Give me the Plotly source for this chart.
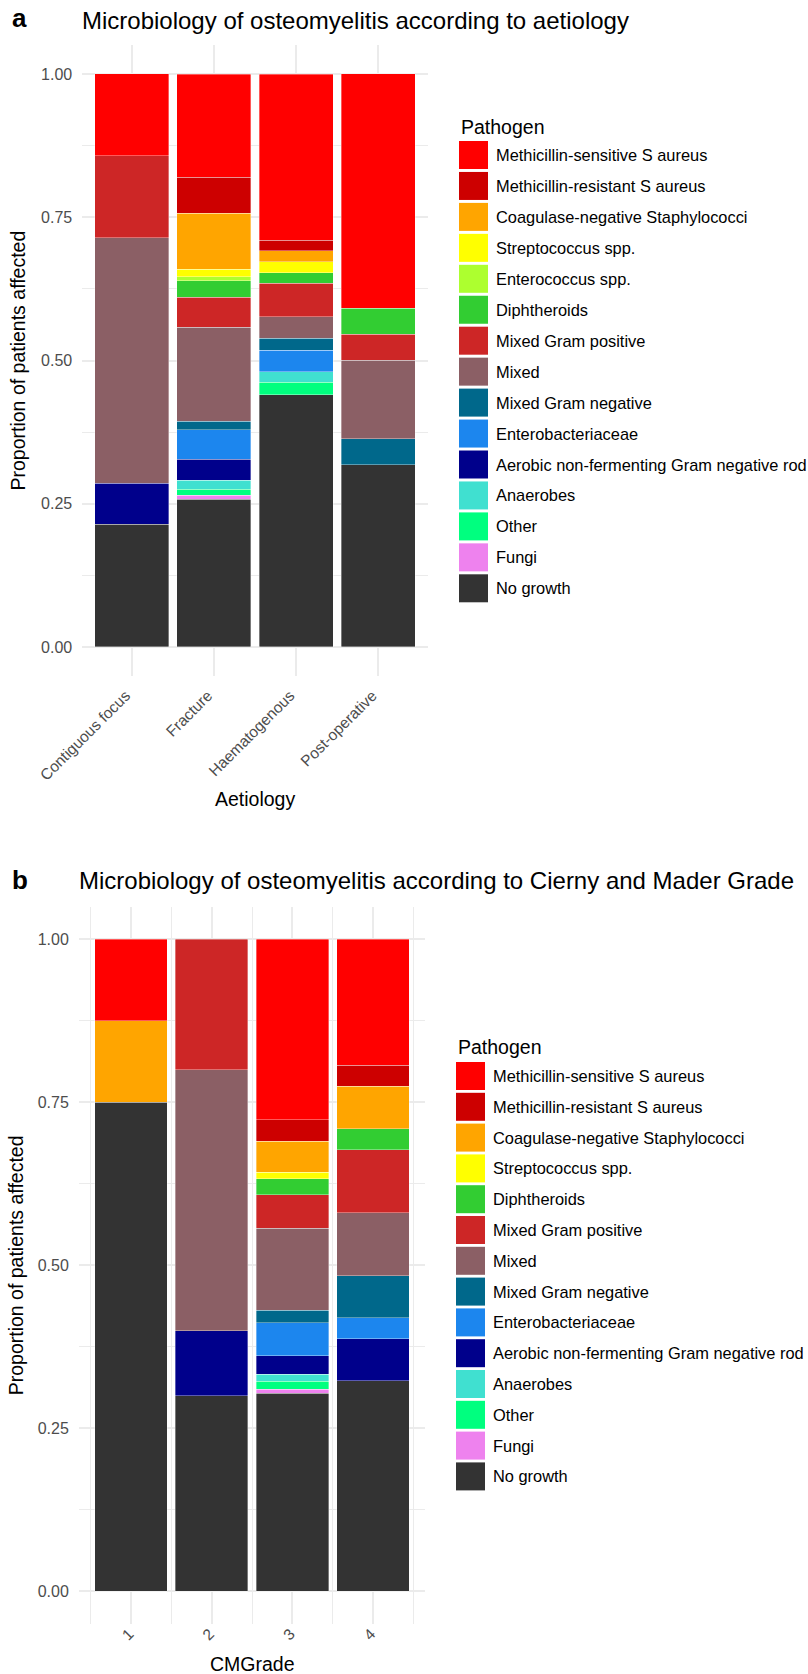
import plotly.graph_objects as go

W, H = 808, 1674
FONT = "Liberation Sans, Arial, Helvetica, sans-serif"
GRID = "#EBEBEB"
TICK_COL = "#4D4D4D"

# Pathogen levels (legend order, top of stack first) and their fill colours
pathogens = [
    "Methicillin-sensitive S aureus",
    "Methicillin-resistant S aureus",
    "Coagulase-negative Staphylococci",
    "Streptococcus spp.",
    "Enterococcus spp.",
    "Diphtheroids",
    "Mixed Gram positive",
    "Mixed",
    "Mixed Gram negative",
    "Enterobacteriaceae",
    "Aerobic non-fermenting Gram negative rod",
    "Anaerobes",
    "Other",
    "Fungi",
    "No growth",
]
colours = [
    "#FF0000", "#CD0000", "#FFA500", "#FFFF00", "#ADFF2F", "#32CD32",
    "#CD2626", "#8B5F65", "#00688B", "#1C86EE", "#00008B", "#40E0D0",
    "#00FF7F", "#EE82EE", "#333333",
]

# ---- panel a: proportion of patients by aetiology (values in pathogen order)
aetiology = ["Contiguous focus", "Fracture", "Haematogenous", "Post-operative"]
contiguous_focus = [0.1429, 0, 0, 0, 0, 0, 0.1429, 0.4286, 0, 0, 0.0714, 0, 0, 0, 0.2143]
fracture = [0.180, 0.063, 0.098, 0.013, 0.007, 0.029, 0.052, 0.164, 0.015, 0.051, 0.037, 0.016, 0.010, 0.007, 0.258]
haematogenous = [0.290, 0.018, 0.020, 0.019, 0, 0.018, 0.059, 0.037, 0.021, 0.038, 0, 0.018, 0.022, 0, 0.440]
post_operative = [0.4091, 0, 0, 0, 0, 0.0455, 0.0455, 0.1364, 0.0455, 0, 0, 0, 0, 0, 0.3182]

# ---- panel b: proportion of patients by Cierny and Mader grade
pathogens_b = [p for p in pathogens if p != "Enterococcus spp."]
cm_grades = [1, 2, 3, 4]
grade_1 = [0.125, 0, 0.125, 0, 0, 0, 0, 0, 0, 0, 0, 0, 0, 0.750]
grade_2 = [0, 0, 0, 0, 0, 0.200, 0.400, 0, 0, 0.100, 0, 0, 0, 0.300]
grade_3 = [0.277, 0.033, 0.047, 0.010, 0.025, 0.051, 0.126, 0.019, 0.051, 0.028, 0.011, 0.012, 0.006, 0.304]
grade_4 = [0.1935, 0.0323, 0.0645, 0, 0.0323, 0.0968, 0.0968, 0.0645, 0.0323, 0.0645, 0, 0, 0, 0.3226]

y_ticks = [0, 0.25, 0.5, 0.75, 1.0]
y_tick_text = ["0.00", "0.25", "0.50", "0.75", "1.00"]

colour_of = dict(zip(pathogens, colours))


def px_x(v):
    return v / W


def px_y(v):
    return 1 - v / H


fig = go.Figure()


def add_stack(cats, columns, levels, xaxis, yaxis):
    # plotly stacks the first trace at the bottom, so go from the last level up
    for k in reversed(range(len(levels))):
        vals = [col[k] if col[k] > 0 else None for col in columns]
        fig.add_trace(go.Bar(
            x=cats, y=vals, name=levels[k], width=0.9,
            marker=dict(color=colour_of[levels[k]], line=dict(color="rgba(255,255,255,0.7)", width=0.5)),
            xaxis=xaxis, yaxis=yaxis, showlegend=False,
        ))


add_stack(aetiology, [contiguous_focus, fracture, haematogenous, post_operative], pathogens, "x", "y")
add_stack(cm_grades, [grade_1, grade_2, grade_3, grade_4], pathogens_b, "x2", "y2")

# panel geometry in pixels
A_L, A_R, A_T, A_B = 82.4, 427.6, 45.4, 675.6
B_L, B_R, B_T, B_B = 79.0, 425.0, 906.7, 1623.9

yaxis_common = dict(
    range=[-0.05, 1.05], tickvals=y_ticks, ticktext=y_tick_text, automargin=False,
    showgrid=True, gridcolor=GRID, gridwidth=1.6, zeroline=False, showline=False,
    ticks="outside", ticklen=6, tickcolor="rgba(0,0,0,0)",
    tickfont=dict(family=FONT, size=16, color=TICK_COL),
    minor=dict(dtick=0.125, showgrid=True, gridcolor=GRID, gridwidth=0.8),
)

x_tickfont = dict(family=FONT, size=15.5, color=TICK_COL)

fig.update_layout(
    width=W, height=H, margin=dict(l=0, r=0, t=0, b=0, autoexpand=False),
    paper_bgcolor="white", plot_bgcolor="white",
    barmode="stack", bargap=0.1, showlegend=False,
    font=dict(family=FONT, color="#000000"),
    xaxis=dict(
        domain=[px_x(A_L), px_x(A_R)], anchor="y", type="category", automargin=False,
        categoryorder="array", categoryarray=aetiology, range=[-0.6, 3.6],
        showgrid=True, gridcolor=GRID, gridwidth=1.6, zeroline=False, showline=False,
        tickangle=-45, ticks="", ticklabelstandoff=7, ticklabelshift=-6, tickfont=x_tickfont,
    ),
    yaxis=dict(domain=[px_y(A_B), px_y(A_T)], anchor="x", **yaxis_common),
    xaxis2=dict(
        domain=[px_x(B_L), px_x(B_R)], anchor="y2", range=[0.355, 4.645], automargin=False,
        tickvals=cm_grades, ticktext=[str(g) for g in cm_grades],
        showgrid=True, gridcolor=GRID, gridwidth=1.6, zeroline=False, showline=False,
        minor=dict(dtick=0.5, tick0=0.5, showgrid=True, gridcolor=GRID, gridwidth=0.8),
        tickangle=-45, ticks="", ticklabelstandoff=-3, ticklabelshift=-2, tickfont=x_tickfont,
    ),
    yaxis2=dict(domain=[px_y(B_B), px_y(B_T)], anchor="x2", **yaxis_common),
)

ann = []


def text(x, y, s, size, xanchor="left", angle=0, bold=False, color="#000000"):
    ann.append(dict(
        x=px_x(x), y=px_y(y), xref="paper", yref="paper", text=f"<b>{s}</b>" if bold else s,
        showarrow=False, xanchor=xanchor, yanchor="middle", textangle=angle,
        font=dict(family=FONT, size=size, color=color),
    ))


# panel letters and titles
text(10, 18, "a", 26, bold=True)
text(80, 20, "Microbiology of osteomyelitis according to aetiology", 24)
text(10, 880, "b", 26, bold=True)
text(77, 881, "Microbiology of osteomyelitis according to Cierny and Mader Grade", 24)

# axis titles
text((A_L + A_R) / 2, 799, "Aetiology", 19.5, xanchor="center")
text(18, (A_T + A_B) / 2, "Proportion of patients affected", 19.5, xanchor="center", angle=-90)
text((B_L + B_R) / 2, 1664, "CMGrade", 19.5, xanchor="center")
text(16, (B_T + B_B) / 2, "Proportion of patients affected", 19.5, xanchor="center", angle=-90)

shapes = []


def legend(levels, title_y, key_x, first_y, step, key_w=29, key_h=28):
    text(key_x, title_y, "Pathogen", 19.5)
    for i, lev in enumerate(levels):
        cy = first_y + i * step
        shapes.append(dict(
            type="rect", xref="paper", yref="paper",
            x0=px_x(key_x), x1=px_x(key_x + key_w),
            y0=px_y(cy + key_h / 2), y1=px_y(cy - key_h / 2),
            fillcolor=colour_of[lev], line=dict(width=0),
        ))
        text(key_x + key_w + 6, cy, lev, 16.4)


legend(pathogens, 126.5, 459, 155.0, 30.95)
legend(pathogens_b, 1046.5, 456, 1076.0, 30.8)

fig.update_layout(annotations=ann, shapes=shapes)
fig.write_html("out.html")
